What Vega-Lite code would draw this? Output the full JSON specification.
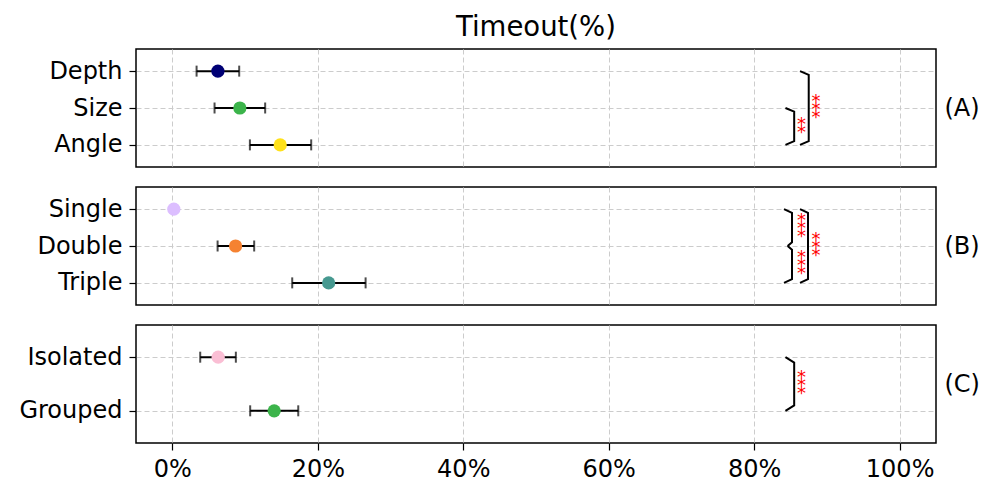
{
  "$schema": "https://vega.github.io/schema/vega-lite/v6.json",
  "padding": {"left": 18, "top": 12, "right": 5, "bottom": 5},
  "datasets": {
    "pts": [
      {"panel": "A", "label": "Depth", "idx": 0, "mean": 6.26, "lo": 3.33, "hi": 9.19},
      {"panel": "A", "label": "Size", "idx": 1, "mean": 9.28, "lo": 5.8, "hi": 12.76},
      {"panel": "A", "label": "Angle", "idx": 2, "mean": 14.83, "lo": 10.66, "hi": 19.09},
      {"panel": "B", "label": "Single", "idx": 0, "mean": 0.2},
      {"panel": "B", "label": "Double", "idx": 1, "mean": 8.69, "lo": 6.22, "hi": 11.25},
      {"panel": "B", "label": "Triple", "idx": 2, "mean": 21.49, "lo": 16.48, "hi": 26.57},
      {"panel": "C", "label": "Isolated", "idx": 0, "mean": 6.3, "lo": 3.83, "hi": 8.73},
      {"panel": "C", "label": "Grouped", "idx": 1, "mean": 14.0, "lo": 10.7, "hi": 17.31}
    ],
    "brk": [
      {"panel": "A", "b": "A1", "k": 0, "bx": 84.3, "by": 1},
      {"panel": "A", "b": "A1", "k": 1, "bx": 85.5, "by": 1.1},
      {"panel": "A", "b": "A1", "k": 2, "bx": 85.5, "by": 1.9},
      {"panel": "A", "b": "A1", "k": 3, "bx": 84.3, "by": 2},
      {"panel": "A", "b": "A2", "k": 0, "bx": 86.3, "by": 0},
      {"panel": "A", "b": "A2", "k": 1, "bx": 87.5, "by": 0.1},
      {"panel": "A", "b": "A2", "k": 2, "bx": 87.5, "by": 1.9},
      {"panel": "A", "b": "A2", "k": 3, "bx": 86.3, "by": 2},
      {"panel": "B", "b": "B1", "k": 0, "bx": 84.1, "by": 0},
      {"panel": "B", "b": "B1", "k": 1, "bx": 85.2, "by": 0.1},
      {"panel": "B", "b": "B1", "k": 2, "bx": 85.2, "by": 0.9},
      {"panel": "B", "b": "B1", "k": 3, "bx": 84.6, "by": 1},
      {"panel": "B", "b": "B2", "k": 0, "bx": 84.6, "by": 1},
      {"panel": "B", "b": "B2", "k": 1, "bx": 85.2, "by": 1.1},
      {"panel": "B", "b": "B2", "k": 2, "bx": 85.2, "by": 1.9},
      {"panel": "B", "b": "B2", "k": 3, "bx": 84.1, "by": 2},
      {"panel": "B", "b": "B3", "k": 0, "bx": 86.3, "by": 0},
      {"panel": "B", "b": "B3", "k": 1, "bx": 87.4, "by": 0.1},
      {"panel": "B", "b": "B3", "k": 2, "bx": 87.4, "by": 1.9},
      {"panel": "B", "b": "B3", "k": 3, "bx": 86.3, "by": 2},
      {"panel": "C", "b": "C1", "k": 0, "bx": 84.3, "by": 0},
      {"panel": "C", "b": "C1", "k": 1, "bx": 85.5, "by": 0.1},
      {"panel": "C", "b": "C1", "k": 2, "bx": 85.5, "by": 0.9},
      {"panel": "C", "b": "C1", "k": 3, "bx": 84.3, "by": 1}
    ],
    "stars": [
      {"panel": "A", "sx": 86.5, "sy": 1.5, "s": "*\n*"},
      {"panel": "A", "sx": 88.5, "sy": 1.0, "s": "*\n*\n*"},
      {"panel": "B", "sx": 86.5, "sy": 0.5, "s": "*\n*\n*"},
      {"panel": "B", "sx": 86.5, "sy": 1.5, "s": "*\n*\n*"},
      {"panel": "B", "sx": 88.5, "sy": 1.0, "s": "*\n*\n*"},
      {"panel": "C", "sx": 86.5, "sy": 0.5, "s": "*\n*\n*"}
    ]
  },
  "vconcat": [
    {
      "title": {"text": "Timeout(%)", "fontSize": 27.5, "fontWeight": "normal", "font": "DejaVu Sans", "color": "black", "anchor": "middle", "frame": "group", "offset": 8},
      "width": 800, "height": 118,
      "resolve": {"axis": {"y": "independent"}},
      "layer": [
        {
          "data": {"name": "pts"},
          "transform": [{"filter": "datum.panel == 'A' && isValid(datum.lo)"}],
          "mark": {"type": "rule", "color": "black", "strokeWidth": 2},
          "encoding": {
            "x": {"field": "lo", "type": "quantitative", "scale": {"domain": [-5, 105], "nice": false, "zero": false}, "axis": {"values": [0, 20, 40, 60, 80, 100], "labels": false, "ticks": false, "title": null}},
            "x2": {"field": "hi"},
            "y": {"field": "idx", "type": "quantitative", "scale": {"domain": [2.6, -0.6], "nice": false, "zero": false}, "axis": {"values": [0, 1, 2], "title": null, "labelExpr": "datum.value == 0 ? 'Depth' : datum.value == 1 ? 'Size' : 'Angle'"}}
          }
        },
        {
          "data": {"name": "pts"},
          "transform": [{"filter": "datum.panel == 'A' && isValid(datum.lo)"}, {"fold": ["lo", "hi"], "as": ["end", "v"]}],
          "mark": {"type": "tick", "orient": "vertical", "color": "black", "thickness": 2, "size": 11},
          "encoding": {
            "x": {"field": "v", "type": "quantitative"},
            "y": {"field": "idx", "type": "quantitative", "axis": null}
          }
        },
        {
          "data": {"name": "pts"},
          "transform": [{"filter": "datum.panel == 'A'"}],
          "mark": {"type": "circle", "size": 175, "opacity": 1},
          "encoding": {
            "x": {"field": "mean", "type": "quantitative"},
            "y": {"field": "idx", "type": "quantitative", "axis": null},
            "color": {"field": "label", "type": "nominal", "legend": null, "scale": {"domain": ["Depth", "Size", "Angle", "Single", "Double", "Triple", "Isolated", "Grouped"], "range": ["#000075", "#3cb44b", "#ffe119", "#dcbeff", "#f58231", "#469990", "#fabed4", "#3cb44b"]}}
          }
        },
        {
          "data": {"name": "brk"},
          "transform": [{"filter": "datum.panel == 'A'"}],
          "mark": {"type": "line", "color": "black", "strokeWidth": 2},
          "encoding": {
            "x": {"field": "bx", "type": "quantitative"},
            "y": {"field": "by", "type": "quantitative", "axis": {"orient": "right", "title": "(A)", "titleAngle": 0, "titleAlign": "left", "titleBaseline": "middle", "titlePadding": 8, "labels": false, "ticks": false, "grid": false, "domain": false}},
            "detail": {"field": "b"},
            "order": {"field": "k"}
          }
        },
        {
          "data": {"name": "stars"},
          "transform": [{"filter": "datum.panel == 'A' && length(datum.s) == 5"}],
          "mark": {"type": "text", "color": "red", "fontSize": 18, "lineBreak": "\n", "lineHeight": 8, "baseline": "middle", "align": "center", "dy": -6.5},
          "encoding": {
            "x": {"field": "sx", "type": "quantitative"},
            "y": {"field": "sy", "type": "quantitative", "axis": null},
            "text": {"field": "s"}
          }
        },
        {
          "data": {"name": "stars"},
          "transform": [{"filter": "datum.panel == 'A' && length(datum.s) == 3"}],
          "mark": {"type": "text", "color": "red", "fontSize": 18, "lineBreak": "\n", "lineHeight": 8, "baseline": "middle", "align": "center", "dy": -1.5},
          "encoding": {
            "x": {"field": "sx", "type": "quantitative"},
            "y": {"field": "sy", "type": "quantitative", "axis": null},
            "text": {"field": "s"}
          }
        }
      ]
    },
    {
      "width": 800, "height": 118,
      "resolve": {"axis": {"y": "independent"}},
      "layer": [
        {
          "data": {"name": "pts"},
          "transform": [{"filter": "datum.panel == 'B' && isValid(datum.lo)"}],
          "mark": {"type": "rule", "color": "black", "strokeWidth": 2},
          "encoding": {
            "x": {"field": "lo", "type": "quantitative", "scale": {"domain": [-5, 105], "nice": false, "zero": false}, "axis": {"values": [0, 20, 40, 60, 80, 100], "labels": false, "ticks": false, "title": null}},
            "x2": {"field": "hi"},
            "y": {"field": "idx", "type": "quantitative", "scale": {"domain": [2.6, -0.6], "nice": false, "zero": false}, "axis": {"values": [0, 1, 2], "title": null, "labelExpr": "datum.value == 0 ? 'Single' : datum.value == 1 ? 'Double' : 'Triple'"}}
          }
        },
        {
          "data": {"name": "pts"},
          "transform": [{"filter": "datum.panel == 'B' && isValid(datum.lo)"}, {"fold": ["lo", "hi"], "as": ["end", "v"]}],
          "mark": {"type": "tick", "orient": "vertical", "color": "black", "thickness": 2, "size": 11},
          "encoding": {
            "x": {"field": "v", "type": "quantitative"},
            "y": {"field": "idx", "type": "quantitative", "axis": null}
          }
        },
        {
          "data": {"name": "pts"},
          "transform": [{"filter": "datum.panel == 'B'"}],
          "mark": {"type": "circle", "size": 175, "opacity": 1},
          "encoding": {
            "x": {"field": "mean", "type": "quantitative"},
            "y": {"field": "idx", "type": "quantitative", "axis": null},
            "color": {"field": "label", "type": "nominal", "legend": null, "scale": {"domain": ["Depth", "Size", "Angle", "Single", "Double", "Triple", "Isolated", "Grouped"], "range": ["#000075", "#3cb44b", "#ffe119", "#dcbeff", "#f58231", "#469990", "#fabed4", "#3cb44b"]}}
          }
        },
        {
          "data": {"name": "brk"},
          "transform": [{"filter": "datum.panel == 'B'"}],
          "mark": {"type": "line", "color": "black", "strokeWidth": 2},
          "encoding": {
            "x": {"field": "bx", "type": "quantitative"},
            "y": {"field": "by", "type": "quantitative", "axis": {"orient": "right", "title": "(B)", "titleAngle": 0, "titleAlign": "left", "titleBaseline": "middle", "titlePadding": 8, "labels": false, "ticks": false, "grid": false, "domain": false}},
            "detail": {"field": "b"},
            "order": {"field": "k"}
          }
        },
        {
          "data": {"name": "stars"},
          "transform": [{"filter": "datum.panel == 'B'"}],
          "mark": {"type": "text", "color": "red", "fontSize": 18, "lineBreak": "\n", "lineHeight": 8, "baseline": "middle", "align": "center", "dy": -6.5},
          "encoding": {
            "x": {"field": "sx", "type": "quantitative"},
            "y": {"field": "sy", "type": "quantitative", "axis": null},
            "text": {"field": "s"}
          }
        }
      ]
    },
    {
      "width": 800, "height": 118,
      "resolve": {"axis": {"y": "independent"}},
      "layer": [
        {
          "data": {"name": "pts"},
          "transform": [{"filter": "datum.panel == 'C' && isValid(datum.lo)"}],
          "mark": {"type": "rule", "color": "black", "strokeWidth": 2},
          "encoding": {
            "x": {"field": "lo", "type": "quantitative", "scale": {"domain": [-5, 105], "nice": false, "zero": false}, "axis": {"values": [0, 20, 40, 60, 80, 100], "title": null, "labelExpr": "datum.value + '%'"}},
            "x2": {"field": "hi"},
            "y": {"field": "idx", "type": "quantitative", "scale": {"domain": [1.6, -0.6], "nice": false, "zero": false}, "axis": {"values": [0, 1], "title": null, "labelExpr": "datum.value == 0 ? 'Isolated' : 'Grouped'"}}
          }
        },
        {
          "data": {"name": "pts"},
          "transform": [{"filter": "datum.panel == 'C' && isValid(datum.lo)"}, {"fold": ["lo", "hi"], "as": ["end", "v"]}],
          "mark": {"type": "tick", "orient": "vertical", "color": "black", "thickness": 2, "size": 11},
          "encoding": {
            "x": {"field": "v", "type": "quantitative"},
            "y": {"field": "idx", "type": "quantitative", "axis": null}
          }
        },
        {
          "data": {"name": "pts"},
          "transform": [{"filter": "datum.panel == 'C'"}],
          "mark": {"type": "circle", "size": 175, "opacity": 1},
          "encoding": {
            "x": {"field": "mean", "type": "quantitative"},
            "y": {"field": "idx", "type": "quantitative", "axis": null},
            "color": {"field": "label", "type": "nominal", "legend": null, "scale": {"domain": ["Depth", "Size", "Angle", "Single", "Double", "Triple", "Isolated", "Grouped"], "range": ["#000075", "#3cb44b", "#ffe119", "#dcbeff", "#f58231", "#469990", "#fabed4", "#3cb44b"]}}
          }
        },
        {
          "data": {"name": "brk"},
          "transform": [{"filter": "datum.panel == 'C'"}],
          "mark": {"type": "line", "color": "black", "strokeWidth": 2},
          "encoding": {
            "x": {"field": "bx", "type": "quantitative"},
            "y": {"field": "by", "type": "quantitative", "axis": {"orient": "right", "title": "(C)", "titleAngle": 0, "titleAlign": "left", "titleBaseline": "middle", "titlePadding": 8, "labels": false, "ticks": false, "grid": false, "domain": false}},
            "detail": {"field": "b"},
            "order": {"field": "k"}
          }
        },
        {
          "data": {"name": "stars"},
          "transform": [{"filter": "datum.panel == 'C'"}],
          "mark": {"type": "text", "color": "red", "fontSize": 18, "lineBreak": "\n", "lineHeight": 8, "baseline": "middle", "align": "center", "dy": -6.5},
          "encoding": {
            "x": {"field": "sx", "type": "quantitative"},
            "y": {"field": "sy", "type": "quantitative", "axis": null},
            "text": {"field": "s"}
          }
        }
      ]
    }
  ],
  "config": {
    "font": "DejaVu Sans",
    "concat": {"spacing": 18},
    "view": {"stroke": "black", "strokeWidth": 1.5},
    "axis": {
      "labelFont": "DejaVu Sans", "labelFontSize": 24, "labelColor": "black", "labelPadding": 7,
      "titleFont": "DejaVu Sans", "titleFontSize": 24, "titleFontWeight": "normal", "titleColor": "black",
      "tickColor": "black", "tickSize": 7, "tickWidth": 1.2,
      "domain": false,
      "gridColor": "#cccccc", "gridDash": [5, 3], "gridWidth": 1
    }
  }
}
